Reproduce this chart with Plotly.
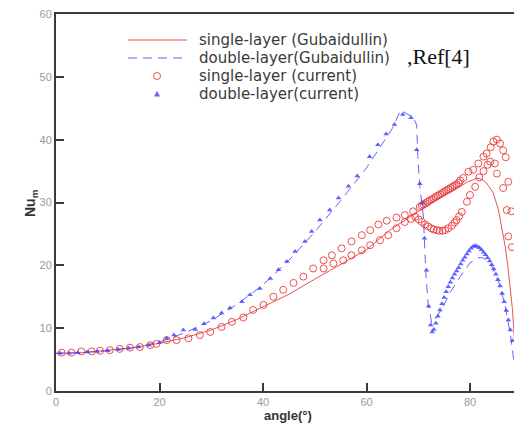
import plotly.graph_objects as go

# ---- data ----
sg_x = [0, 5, 10, 15, 20, 25, 30, 35, 40, 45, 50, 55, 58, 60, 64.5, 67, 70, 72, 74, 76.4, 78, 79.6, 80.6,
        81.3, 82.2, 83.2, 84.5, 85.5, 86.1, 86.8, 87.3, 87.8, 88.2, 88.6]
sg_y = [6.0, 6.1, 6.5, 6.9, 7.6, 8.5, 9.7, 11.4, 13.4, 15.4, 17.8, 20.1, 21.6, 22.5, 25.6, 27.0, 28.6, 29.6,
        30.7, 31.7, 32.5, 33.3, 33.6, 33.9, 33.7, 33.1, 31.5, 28.8, 26.1, 23.0, 20.0, 16.5, 13.0, 8.0]

dg_x = [0, 5, 10, 15, 20, 25, 30, 35, 40, 45, 50, 55, 60, 63, 65, 66.6, 68.0, 69.0, 69.7, 69.9, 70.3,
        71.0, 71.3, 71.5, 71.9, 72.6, 73.3, 74.8, 76.1, 78.1, 80.0, 81.5, 82.5, 84.0, 85.5, 86.8, 87.8, 88.6]
dg_y = [6.0, 6.1, 6.4, 6.9, 7.8, 9.3, 11.2, 13.8, 16.9, 20.8, 25.3, 30.3, 35.5, 39.3, 41.8, 44.7, 44.0,
        43.7, 42.3, 37.5, 32.5, 27.7, 22.4, 18.2, 14.0, 10.8, 11.5, 13.4, 15.6, 18.2, 20.4, 21.2, 21.2,
        20.2, 17.5, 13.5, 9.0, 4.0]

sc_up_x = [1.1, 3.0, 4.9, 6.9, 8.5, 10.4, 12.3, 14.3, 16.2, 18.2, 19.4, 21.4, 23.3, 25.6, 27.8, 29.8,
           32.0, 34.0, 36.2, 38.1, 40.1, 42.0, 43.9, 45.9, 47.8, 49.7, 51.7, 53.3, 55.2, 57.1, 59.1,
           60.7, 62.3, 63.9, 65.8, 67.4, 69.0, 70.3, 70.7, 71.0, 71.4, 71.8, 72.2, 72.6, 73.0, 73.4,
           73.8, 74.2, 74.6, 75.0, 75.4, 75.8, 76.2, 76.6, 77.0, 77.4, 77.8, 78.1, 78.7, 79.7, 80.6,
           81.6, 82.6, 83.2, 84.0, 84.5, 85.2, 85.8, 86.4, 86.9, 87.4, 88.0]
sc_up_y = [6.1, 6.1, 6.3, 6.3, 6.4, 6.5, 6.7, 6.9, 7.0, 7.3, 7.5, 8.1, 8.1, 8.4, 8.9, 9.4,
           10.2, 11.0, 11.7, 12.9, 13.7, 15.0, 16.1, 17.2, 18.2, 19.5, 20.8, 21.6, 22.7, 23.8, 24.8,
           25.6, 26.5, 27.1, 27.6, 28.0, 28.6, 29.3, 29.5, 29.7, 29.9, 30.1, 30.3, 30.5, 30.7, 30.9,
           31.1, 31.3, 31.5, 31.7, 31.9, 32.1, 32.3, 32.5, 32.7, 32.9, 33.1, 33.5, 33.9, 34.9, 35.2,
           36.2, 37.3, 37.8, 38.8, 39.7, 40.0, 39.4, 38.3, 37.2, 33.3, 28.6]

sc_lo_x = [51.7, 53.6, 55.5, 57.1, 59.1, 60.7, 62.6, 64.2, 65.8, 67.4, 68.6, 69.4, 70.1, 70.7, 71.3,
           71.9, 72.5, 73.0, 73.6, 74.1, 74.7, 75.2, 75.8, 76.5, 77.0, 77.4, 77.9, 78.4, 79.4, 80.0,
           81.0, 81.8, 82.6, 83.4, 83.9, 84.8, 85.2, 86.4, 87.1, 87.4, 88.1]
sc_lo_y = [19.5, 20.3, 20.8, 21.6, 22.4, 23.2, 24.0, 24.8, 25.9, 26.9, 27.4, 27.7, 27.3, 26.9, 26.5,
           26.2, 25.9, 25.7, 25.6, 25.5, 25.5, 25.6, 25.9, 26.3, 26.8, 27.2, 27.8, 28.5, 30.1, 31.2,
           32.5, 34.0, 35.0, 36.0, 36.5, 36.2, 34.6, 32.3, 28.8, 24.6, 22.9]

dc_x = [0.8, 2.5, 4.2, 6, 8, 10, 12, 14, 16, 18, 20, 21.4, 22.8, 24.6, 26.9, 28.6, 30.4, 32.0, 33.6,
        35.9, 37.5, 39.4, 41.4, 43.0, 44.6, 46.2, 48.1, 49.4, 51.0, 52.9, 54.6, 56.5, 58.2, 60.6,
        62.2, 63.8, 65.4, 67.0, 68.6, 69.7, 70.3, 70.9, 71.2, 71.6, 72.0, 72.4, 72.7, 73.0, 73.4,
        73.8, 74.2, 74.6, 75.0, 75.4, 75.8, 76.2, 76.6, 77.0, 77.4, 77.8, 78.2, 78.6, 79.0, 79.4,
        79.8, 80.2, 80.6, 81.0, 81.4, 81.8, 82.2, 82.6, 83.0, 83.4, 83.8, 84.2, 84.6, 85.0, 85.4,
        85.8, 86.2, 86.6, 87.0, 87.4, 87.8, 88.2]
dc_y = [6.0, 6.0, 6.1, 6.2, 6.3, 6.4, 6.6, 6.8, 7.0, 7.3, 7.7, 8.4, 8.9, 9.7, 9.8, 10.7, 11.6, 12.4,
        13.2, 14.2, 15.3, 16.3, 17.9, 19.3, 20.6, 22.2, 23.8, 25.4, 27.2, 28.8, 30.7, 32.6, 34.2,
        37.3, 39.2, 40.9, 42.4, 44.0, 43.5, 38.4, 33.0, 29.9, 24.3, 19.2, 13.5, 10.5, 9.4, 9.8, 10.8,
        11.9, 12.9, 13.9, 14.9, 15.8, 16.6, 17.3, 18.0, 18.6, 19.1, 19.6, 20.2, 20.8, 21.3, 21.8,
        22.3, 22.7, 23.0, 23.1, 23.0, 22.8, 22.5, 22.1, 21.7, 21.2, 20.7, 20.1, 19.4, 18.6, 17.7,
        16.7, 15.5, 14.2, 12.8, 11.3, 9.7, 8.0]

x_ticks = [0, 20, 40, 60, 80]
y_ticks = [0, 10, 20, 30, 40, 50, 60]

names = ["single-layer (Gubaidullin)", "double-layer(Gubaidullin)",
         "single-layer (current)", "double-layer(current)"]

RED = "rgba(232,50,50,0.85)"
BLUE = "rgba(70,70,255,0.85)"

# plot-area geometry (pixels) used to place the hand-built legend
W, H = 514, 424
ML, MR, MT, MB = 56, 0, 14, 33
PW, PH = W - ML - MR, H - MT - MB


def px(xp):
    return (xp - ML) / PW


def py(yp):
    return (H - MB - yp) / PH


fig = go.Figure()
fig.add_trace(go.Scatter(x=sg_x, y=sg_y, mode="lines", name=names[0],
                         line=dict(color=RED, width=1)))
fig.add_trace(go.Scatter(x=dg_x, y=dg_y, mode="lines", name=names[1],
                         line=dict(color=BLUE, width=1, dash="9px,6px")))
fig.add_trace(go.Scatter(x=sc_up_x + sc_lo_x, y=sc_up_y + sc_lo_y, mode="markers", name=names[2],
                         marker=dict(symbol="circle-open", size=7, color=RED, line=dict(width=1, color=RED))))
fig.add_trace(go.Scatter(x=dc_x, y=dc_y, mode="markers", name=names[3],
                         marker=dict(symbol="triangle-up", size=5, color=BLUE, line=dict(width=0))))

axis_common = dict(showgrid=False, zeroline=False, showline=True, linecolor="#3a3a3a", linewidth=2,
                   ticks="inside", ticklen=8, tickwidth=1.5, tickcolor="#3a3a3a", automargin=False,
                   tickfont=dict(family="Liberation Sans, Arial", size=11, color="#9a9a9a"))

fig.update_layout(
    width=W, height=H,
    margin=dict(l=ML, r=MR, t=MT, b=MB, autoexpand=False),
    paper_bgcolor="white", plot_bgcolor="white",
    showlegend=False,
    xaxis=dict(range=[0, 88.5], tickvals=x_ticks, mirror=True, **axis_common),
    yaxis=dict(range=[0, 60], tickvals=y_ticks, **axis_common),
)

# ---- legend (built by hand so spacing matches the original) ----
rows_y = [40, 58, 76, 94]
lx0, lx1, lxc, ltx = 128, 187, 157, 198
shapes = [
    dict(type="line", xref="paper", yref="paper", x0=px(lx0), x1=px(lx1), y0=py(rows_y[0]), y1=py(rows_y[0]),
         line=dict(color=RED, width=1)),
    dict(type="line", xref="paper", yref="paper", x0=px(lx0), x1=px(lx1), y0=py(rows_y[1]), y1=py(rows_y[1]),
         line=dict(color=BLUE, width=1, dash="9px,6px")),
    dict(type="circle", xref="paper", yref="paper", x0=px(lxc - 3.5), x1=px(lxc + 3.5),
         y0=py(rows_y[2] + 3.5), y1=py(rows_y[2] - 3.5), line=dict(color=RED, width=1)),
    dict(type="path", xref="paper", yref="paper",
         path=f"M {px(lxc - 3)},{py(rows_y[3] + 2.5)} L {px(lxc + 3)},{py(rows_y[3] + 2.5)} "
              f"L {px(lxc)},{py(rows_y[3] - 3)} Z",
         fillcolor=BLUE, line=dict(width=0)),
]
fig.update_layout(shapes=shapes)
for name, ry in zip(names, rows_y):
    fig.add_annotation(x=px(ltx), y=py(ry), xref="paper", yref="paper", showarrow=False,
                       xanchor="left", yanchor="middle", text=name, borderpad=0,
                       font=dict(family="DejaVu Sans, Liberation Sans", size=15, color="#3a3a3a"))

fig.add_annotation(x=px(406), y=py(57), xref="paper", yref="paper", showarrow=False,
                   xanchor="left", yanchor="middle", borderpad=0,
                   text=",Ref[4]", font=dict(family="Liberation Serif, Times New Roman", size=22, color="#111"))
fig.add_annotation(x=px(288), y=py(424), xref="paper", yref="paper", showarrow=False, borderpad=0,
                   yanchor="bottom",
                   text="<b>angle(°)</b>", font=dict(family="Liberation Sans, Arial", size=13, color="#333"))
fig.add_annotation(x=px(20), y=py(203), xref="paper", yref="paper", showarrow=False, textangle=-90,
                   text="<b>Nu<sub>m</sub></b>", font=dict(family="Liberation Sans, Arial", size=14, color="#333"))

fig.write_html("out.html", config={"displayModeBar": False},
               post_script="document.body.style.margin='0';document.body.style.padding='0';"
                           "document.documentElement.style.overflow='hidden';")
